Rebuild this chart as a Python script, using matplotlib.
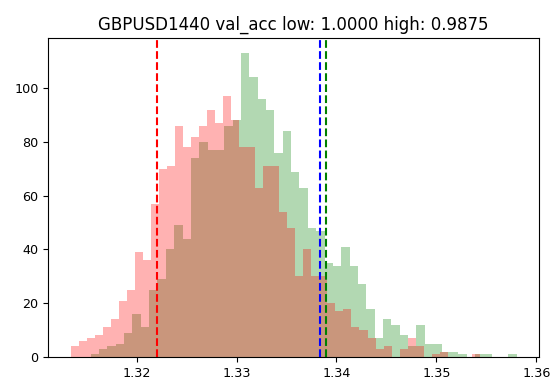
import numpy as np
import matplotlib
matplotlib.use('Agg')
import matplotlib.pyplot as plt

# === DATA ===
# histogram of "low" predictions (red) : 51 equal bins between low_min and low_max
low_min, low_max = 1.3134, 1.35435
low_counts = [4, 6, 7, 8, 11, 14, 21, 25, 39, 36,
              57, 70, 71, 86, 78, 82, 86, 92, 87, 97,
              88, 78, 78, 63, 71, 71, 54, 48, 30, 40,
              30, 30, 20, 17, 18, 11, 10, 7, 3, 4,
              0, 3, 7, 4, 0, 1, 2, 0, 0, 0, 1]

# histogram of "high" predictions (green)
high_min, high_max = 1.3154, 1.35804
high_counts = [1, 3, 4, 5, 9, 16, 11, 25, 29, 40,
               49, 44, 74, 80, 77, 77, 86, 88, 113, 104,
               96, 92, 76, 84, 69, 63, 48, 47, 35, 34,
               41, 34, 27, 18, 7, 14, 12, 8, 4, 12,
               5, 5, 2, 2, 1, 0, 1, 1, 0, 0, 1]

# vertical reference lines
line_red = 1.3220
line_blue = 1.3384
line_green = 1.3390

title = 'GBPUSD1440 val_acc low: 1.0000 high: 0.9875'

# === PLOT ===
fig = plt.figure(figsize=(5.52, 3.81), dpi=100)
ax = fig.add_axes([0.0875, 0.063, 0.889, 0.837])

high_edges = np.linspace(high_min, high_max, len(high_counts) + 1)
low_edges = np.linspace(low_min, low_max, len(low_counts) + 1)

ax.hist((high_edges[:-1] + high_edges[1:]) / 2, bins=high_edges,
        weights=high_counts, color='g', alpha=0.3)
ax.hist((low_edges[:-1] + low_edges[1:]) / 2, bins=low_edges,
        weights=low_counts, color='r', alpha=0.3)

ax.axvline(line_red, color='r', linestyle='--', lw=1.5)
ax.axvline(line_blue, color='b', linestyle='--', lw=1.5)
ax.axvline(line_green, color='g', linestyle='--', lw=1.5)

ax.set_title(title, fontsize=12)
ax.tick_params(labelsize=9.2)

fig.savefig('out.png', dpi=100)
